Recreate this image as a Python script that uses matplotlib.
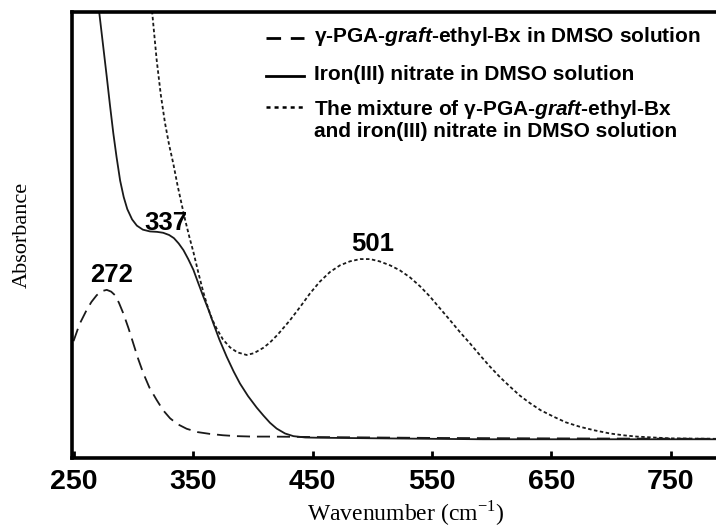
import matplotlib
matplotlib.use("Agg")
import matplotlib.pyplot as plt

plt.rcParams['font.family'] = ['Liberation Sans', 'DejaVu Sans']
plt.rcParams['mathtext.fontset'] = 'custom'
plt.rcParams['mathtext.it'] = 'Liberation Sans:bold:italic'
plt.rcParams['mathtext.rm'] = 'Liberation Serif'
plt.rcParams['lines.scale_dashes'] = False

# gamma-PGA-graft-ethyl-Bx in DMSO (dashed)
pga_x = [250, 255, 261.0, 265, 269.4, 273.5, 277.8, 281.5, 284.7, 288, 291.7,
         296, 300.0, 304, 308.4, 313.5, 319.6, 325, 330.8, 337, 344.7, 354,
         364.2, 375, 386.6, 400, 414.4, 453.5, 550, 650, 788]
pga_y = [0.262, 0.300, 0.332, 0.350, 0.365, 0.374, 0.377, 0.373, 0.365, 0.348,
         0.324, 0.291, 0.257, 0.223, 0.190, 0.158, 0.130, 0.107, 0.089, 0.076,
         0.0655, 0.058, 0.054, 0.051, 0.049, 0.048, 0.048, 0.047, 0.045, 0.044,
         0.043]

# iron(III) nitrate in DMSO (solid)
fe_x = [270.5, 271.6, 274.7, 277.8, 280.5, 283.3, 286, 289, 292, 295, 299,
        303, 308, 314, 320, 325, 330, 334, 338, 342, 346, 350.3, 354, 358.6,
        363, 367, 372, 378.2, 384, 389.3, 396, 403.3, 409, 414.4, 420, 427,
        434, 444, 453.5, 509.2, 592.7, 788]
fe_y = [1.03, 0.997, 0.926, 0.855, 0.791, 0.728, 0.675, 0.622, 0.585, 0.558,
        0.535, 0.521, 0.512, 0.508, 0.507, 0.505, 0.500, 0.493, 0.481, 0.466,
        0.446, 0.422, 0.395, 0.362, 0.332, 0.302, 0.266, 0.227, 0.194, 0.167,
        0.139, 0.113, 0.095, 0.079, 0.066, 0.055, 0.049, 0.046, 0.0455, 0.044,
        0.042, 0.042]

# mixture (dotted)
mix_x = [315.0, 315.9, 319.6, 323, 326.5, 330, 333.5, 337, 340, 343.3, 347,
         350.3, 354.5, 358.6, 362.5, 366, 369.8, 375, 381, 387, 394.9, 401,
         408.8, 414.4, 421, 431.2, 440, 447.9, 456, 464.6, 473, 481.4, 490,
         498.1, 506, 514.9, 523, 531.6, 540, 548.3, 556.5, 565.1, 573.5, 581.8,
         590, 598.5, 607, 615.3, 623.5, 632, 641, 651.5, 662, 673.8, 686,
         698.9, 710, 721.3, 735, 749.5, 788]
mix_y = [1.03, 0.997, 0.892, 0.815, 0.752, 0.702, 0.660, 0.612, 0.575, 0.535,
         0.495, 0.462, 0.415, 0.372, 0.337, 0.311, 0.290, 0.266, 0.248, 0.237,
         0.231, 0.235, 0.247, 0.259, 0.277, 0.309, 0.340, 0.369, 0.395, 0.417,
         0.432, 0.441, 0.446, 0.446, 0.441, 0.432, 0.421, 0.405, 0.385, 0.362,
         0.336, 0.309, 0.282, 0.257, 0.231, 0.205, 0.181, 0.160, 0.140, 0.123,
         0.107, 0.093, 0.080, 0.070, 0.062, 0.055, 0.051, 0.048, 0.046, 0.044,
         0.043]

# peak labels
peak_labels = ['272', '337', '501']
peak_x = [281.8, 327.4, 500.2]
peak_y = [0.410, 0.528, 0.479]

legend_labels = [r'γ-PGA-$\mathit{graft}$-ethyl-Bx in DMSO solution',
                 'Iron(III) nitrate in DMSO solution',
                 'The mixture of γ-PGA-$\\mathit{graft}$-ethyl-Bx\n'
                 'and iron(III) nitrate in DMSO solution']

xticks = [250, 350, 450, 550, 650, 750]

fig = plt.figure(figsize=(7.16, 5.28), dpi=100)
ax = fig.add_axes([71.5 / 716, 70 / 528, 644.5 / 716, 446 / 528])

ink = '#1a1a1a'
ax.plot(pga_x, pga_y, color=ink, lw=1.3, dashes=(9.4, 5.0))
ax.plot(fe_x, fe_y, color=ink, lw=1.3)
ax.plot(mix_x, mix_y, color=ink, lw=1.3, dashes=(2.5, 1.8))

for lab, px, py in zip(peak_labels, peak_x, peak_y):
    ax.text(px, py, lab, ha='center', va='center', fontsize=18.5,
            fontweight='bold', color='black')

# legend drawn by hand (handle aligned to first line of the 2-line entry)
hx = [0.3018, 0.3615]
ax.plot(hx, [0.942, 0.942], transform=ax.transAxes, color='black', lw=2.0,
        dashes=(10.5, 7.0), clip_on=False)
ax.plot(hx, [0.857, 0.857], transform=ax.transAxes, color='black', lw=2.0,
        clip_on=False)
ax.plot(hx, [0.786, 0.786], transform=ax.transAxes, color='black', lw=1.8,
        dashes=(2.9, 2.9), clip_on=False)
text_y = [0.933, 0.848, 0.769]
line_step = 0.049
for lab, ty in zip(legend_labels, text_y):
    for k, part in enumerate(lab.split('\n')):
        ax.text(0.3763, ty - k * line_step, part, transform=ax.transAxes,
                fontsize=15, fontweight='bold', ha='left', va='baseline')

ax.set_xlim(248.3, 787.7)
ax.set_ylim(0, 1)
ax.set_xticks(xticks)
ax.set_yticks([])
ax.tick_params(axis='x', direction='in', length=5, width=2, pad=8,
               labelsize=20.5)
for t in ax.get_xticklabels():
    t.set_fontweight('bold')

for side in ['left', 'bottom', 'top']:
    ax.spines[side].set_linewidth(2.6)
ax.spines['right'].set_visible(False)

ax.set_xlabel('Wavenumber (cm$^{-1}$)', family='Liberation Serif',
              fontsize=17)
ax.xaxis.set_label_coords(0.519, -0.091)
ax.set_ylabel('Absorbance', family='Liberation Serif', fontsize=16)
ax.yaxis.set_label_coords(-0.062, 0.5)

fig.savefig('out.png', dpi=100)
